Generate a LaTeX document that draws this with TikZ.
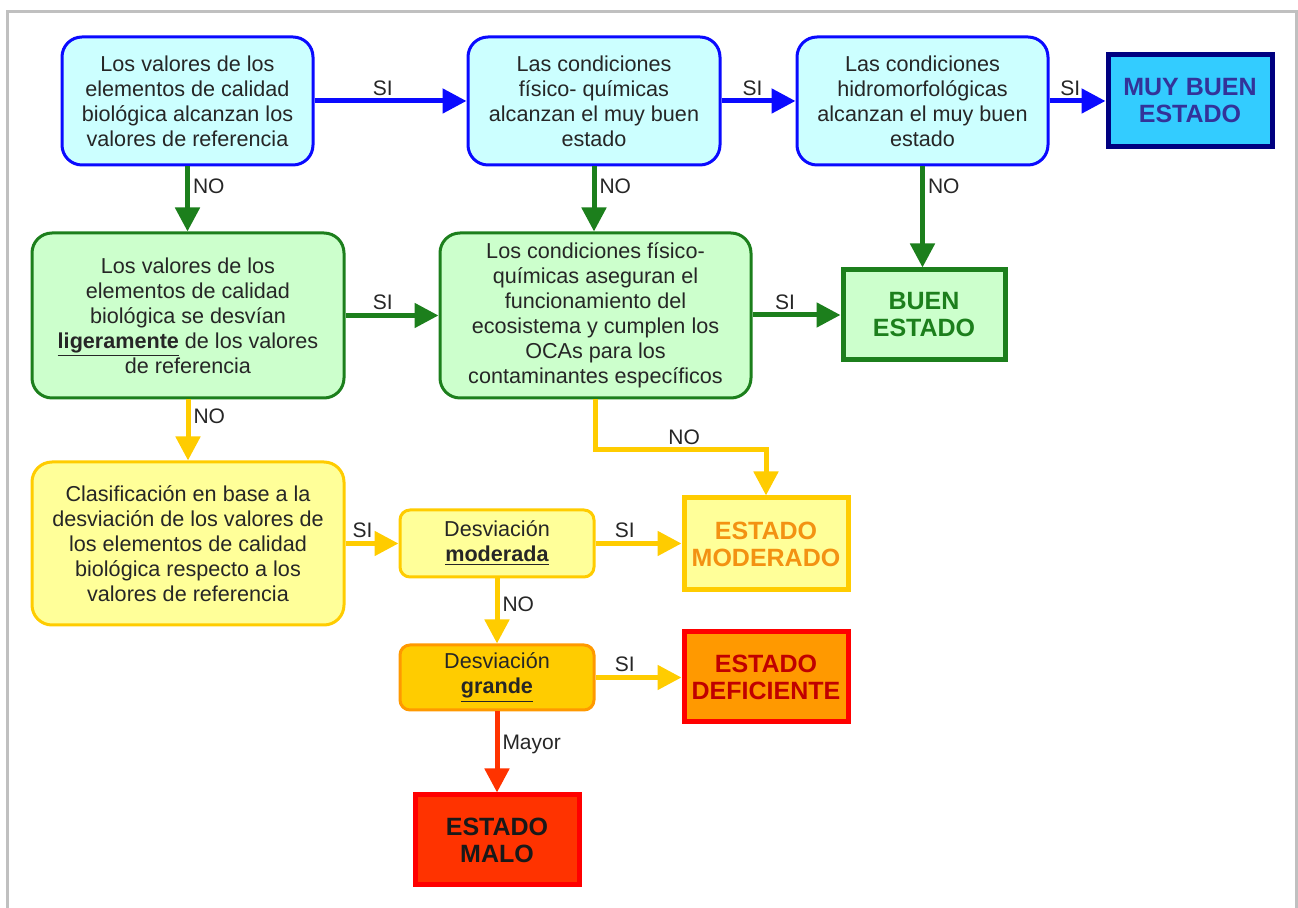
\documentclass[tikz,border=0pt]{standalone}
\usepackage{fontspec}
\setmainfont{Liberation Sans}
\usetikzlibrary{arrows.meta}

\definecolor{bline}{HTML}{0A0AFF}
\definecolor{bfill}{HTML}{CCFFFF}
\definecolor{muyfill}{HTML}{33CCFF}
\definecolor{muyline}{HTML}{000080}
\definecolor{muytext}{HTML}{333399}
\definecolor{gline}{HTML}{1C7F1C}
\definecolor{gfill}{HTML}{CCFFCC}
\definecolor{yline}{HTML}{FFCC00}
\definecolor{yfill}{HTML}{FFFF99}
\definecolor{modtext}{HTML}{F39212}
\definecolor{gfillb}{HTML}{FFCC00}
\definecolor{gborder}{HTML}{FF9900}
\definecolor{deffill}{HTML}{FF9900}
\definecolor{redline}{HTML}{FF0000}
\definecolor{deftext}{HTML}{C00000}
\definecolor{malofill}{HTML}{FF3300}
\definecolor{frameg}{HTML}{C0C0C0}

\begin{document}
\begin{tikzpicture}[x=0.5pt,y=-0.5pt,
  txt/.style={font=\fontsize{10.8}{12.5}\selectfont, text=black!85, align=center},
  question/.style={txt, draw, line width=1.5pt, rounded corners=10pt, inner sep=2pt},
  smallq/.style={txt, draw, line width=1.5pt, rounded corners=5pt, inner sep=2pt},
  result/.style={draw, line width=2.5pt, align=center, inner sep=2pt,
    font=\fontsize{12.5}{13.5}\selectfont\bfseries, minimum width=82pt},
  arr/.style={line width=2.5pt, -{Triangle[length=12pt,width=12pt]}},
  lbl/.style={font=\fontsize{10.5}{12}\selectfont, text=black!85, inner sep=1.5pt},
]
\useasboundingbox (0,0) rectangle (1298,908);

% page frame
\draw[frameg, line width=1.5pt] (7,908) -- (7,12) -- (1296,12) -- (1296,908);

% first row: very good status checks
\node[question, draw=bline, fill=bfill, minimum width=125.5pt, minimum height=64pt]
  (bio1) at (187.5,101) {Los valores de los\\elementos de calidad\\biológica alcanzan los\\valores de referencia};
\node[question, draw=bline, fill=bfill, minimum width=126pt, minimum height=64pt]
  (fq1) at (594,101) {Las condiciones\\físico- químicas\\alcanzan el muy buen\\estado};
\node[question, draw=bline, fill=bfill, minimum width=125.5pt, minimum height=64pt]
  (hm1) at (922.5,101) {Las condiciones\\hidromorfológicas\\alcanzan el muy buen\\estado};
\node[result, draw=muyline, fill=muyfill, text=muytext, minimum height=46pt]
  (muy) at (1190,101) {MUY BUEN\\ESTADO};

% second row: good status checks
\node[question, draw=gline, fill=gfill, minimum width=156pt, minimum height=82.5pt]
  (bio2) at (188,315.5) {Los valores de los\\elementos de calidad\\biológica se desvían\\\underline{\textbf{ligeramente}} de los valores\\de referencia};
\node[question, draw=gline, fill=gfill, minimum width=155.5pt, minimum height=82.5pt]
  (fq2) at (595.5,315.5) {Los condiciones físico-\\químicas aseguran el\\funcionamiento del\\ecosistema y cumplen los\\OCAs para los\\contaminantes específicos};
\node[result, draw=gline, fill=gfill, text=gline, minimum width=81pt, minimum height=45pt]
  (buen) at (924,315) {BUEN\\ESTADO};

% third block: classification by deviation
\node[question, draw=yline, fill=yfill, minimum width=156pt, minimum height=81.5pt]
  (clas) at (188,543.5) {Clasificación en base a la\\desviación de los valores de\\los elementos de calidad\\biológica respecto a los\\valores de referencia};
\node[smallq, draw=yline, fill=yfill, minimum width=97pt, minimum height=33.5pt]
  (dmod) at (497,543.5) {Desviación\\\underline{\textbf{moderada}}};
\node[result, draw=yline, fill=yfill, text=modtext, minimum height=46pt]
  (mod) at (766,544) {ESTADO\\MODERADO};
\node[smallq, draw=gborder, fill=gfillb, minimum width=97pt, minimum height=32.5pt]
  (dgr) at (497,677.5) {Desviación\\\underline{\textbf{grande}}};
\node[result, draw=redline, fill=deffill, text=deftext, minimum height=45pt]
  (def) at (766,677) {ESTADO\\DEFICIENTE};
\node[result, draw=redline, fill=malofill, text=black!90, minimum height=45pt]
  (malo) at (497,840) {ESTADO\\MALO};

% connectors
\draw[arr, bline] (bio1.east) -- node[lbl, above, pos=0.45] {SI} (fq1.west);
\draw[arr, bline] (fq1.east) -- node[lbl, above, pos=0.42] {SI} (hm1.west);
\draw[arr, bline] (hm1.east) -- node[lbl, above, pos=0.37] {SI} (muy.west);

\draw[arr, gline] (bio1.south) -- node[lbl, right, pos=0.3] {NO} (bio1.south |- bio2.north);
\draw[arr, gline] (fq1.south) -- node[lbl, right, pos=0.3] {NO} (fq1.south |- fq2.north);
\draw[arr, gline] (hm1.south) -- node[lbl, right, pos=0.2] {NO} (hm1.south |- buen.north);
\draw[arr, gline] (bio2.east) -- node[lbl, above, pos=0.4] {SI} (fq2.west);
\draw[arr, gline] (fq2.east |- buen.west) -- node[lbl, above, pos=0.37] {SI} (buen.west);

\draw[arr, yline] (bio2.south) -- node[lbl, right, pos=0.27] {NO} (bio2.south |- clas.north);
\coordinate (knee) at (766,450);
\draw[arr, yline] (fq2.south) |- node[lbl, above, pos=0.76] {NO} (knee) -- (mod.north);
\draw[arr, yline] (clas.east |- dmod.west) -- node[lbl, above, pos=0.32] {SI} (dmod.west);
\draw[arr, yline] (dmod.east) -- node[lbl, above, pos=0.34] {SI} (dmod.east -| mod.west);
\draw[arr, yline] (dmod.south) -- node[lbl, right, pos=0.4] {NO} (dgr.north);
\draw[arr, yline] (dgr.east) -- node[lbl, above, pos=0.34] {SI} (dgr.east -| def.west);
\draw[arr, malofill] (dgr.south) -- node[lbl, right, pos=0.41] {Mayor} (malo.north);
\end{tikzpicture}
\end{document}
